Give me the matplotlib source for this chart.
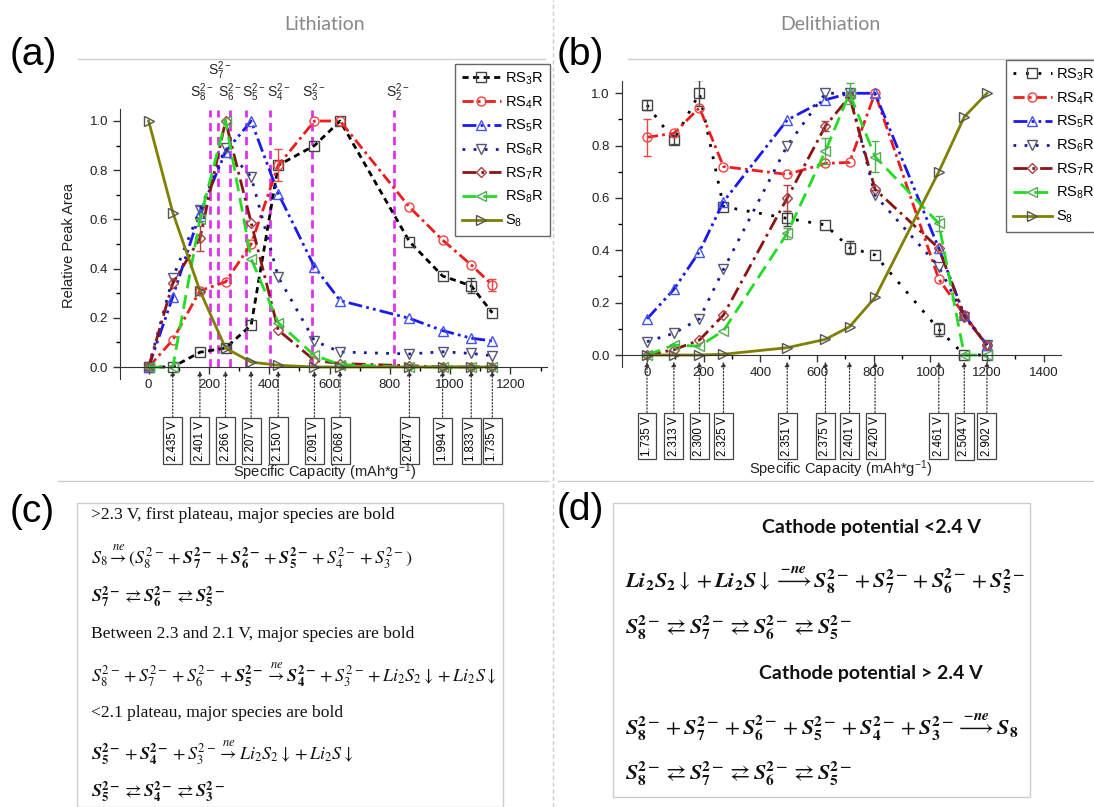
import matplotlib.pyplot as plt
from matplotlib.lines import Line2D
from matplotlib.patches import Rectangle
from matplotlib.ticker import MultipleLocator

plt.rcParams['font.family'] = 'Liberation Sans'
plt.rcParams['mathtext.fontset'] = 'stix'

W, H = 1094, 807

# lithiation (a)
cap_li = [0, 80, 170, 255, 340, 430, 550, 635, 865, 975, 1070, 1140]
volt_li = ['2.435 V', '2.401 V', '2.266 V', '2.207 V', '2.150 V', '2.091 V',
           '2.068 V', '2.047 V', '1.994 V', '1.833 V', '1.735 V']
li_rs3 = [0, 0, 0.06, 0.077, 0.17, 0.82, 0.90, 1.0, 0.51, 0.37, 0.33, 0.22]
li_rs4 = [0, 0.11, 0.31, 0.346, 0.50, 0.82, 1.0, 1.0, 0.65, 0.516, 0.415, 0.333]
li_rs5 = [0, 0.285, 0.624, 0.875, 1.0, 0.705, 0.407, 0.27, 0.198, 0.148, 0.117, 0.106]
li_rs6 = [0, 0.362, 0.637, 0.89, 0.773, 0.366, 0.106, 0.061, 0.053, 0.062, 0.055, 0.046]
li_rs7 = [0, 0.34, 0.523, 1.0, 0.587, 0.15, 0.027, 0.014, 0.005, 0, 0, 0]
li_rs8 = [0, 0, 0.60, 1.0, 0.44, 0.18, 0.047, 0.01, 0, 0, 0, 0]
li_s8 = [1.0, 0.628, 0.31, 0.077, 0.02, 0.007, 0, 0, 0, 0, 0, 0]
li_err_rs3 = [0, 0, 0, 0, 0, 0, 0, 0, 0, 0, 0.03, 0]
li_err_rs4 = [0, 0, 0, 0, 0, 0.065, 0, 0, 0, 0, 0, 0.025]
li_err_rs5 = [0, 0, 0.03, 0, 0, 0, 0, 0, 0, 0, 0, 0]
li_err_rs7 = [0, 0, 0.05, 0, 0, 0, 0, 0, 0, 0, 0, 0]

# polysulfide markers on (a)
sx_lines = [203, 230, 271, 324, 404, 542, 813]
sx_labels = [176, 236, 270, 349, 430, 546, 825]
s_names = ['8', '7', '6', '5', '4', '3', '2']

# delithiation (b)
cap_de = [0, 95, 185, 270, 495, 630, 715, 805, 1030, 1120, 1200]
volt_de = ['1.735 V', '2.313 V', '2.300 V', '2.325 V', '2.351 V', '2.375 V',
           '2.401 V', '2.420 V', '2.461 V', '2.504 V', '2.902 V']
de_rs3 = [0.955, 0.82, 1.0, 0.567, 0.522, 0.497, 0.41, 0.382, 0.098, 0.0, 0.0]
de_rs4 = [0.832, 0.847, 0.945, 0.72, 0.69, 0.732, 0.736, 1.0, 0.29, 0.153, 0.038]
de_rs5 = [0.138, 0.251, 0.395, 0.586, 0.898, 0.975, 1.0, 1.0, 0.408, 0.153, 0.038]
de_rs6 = [0.051, 0.083, 0.138, 0.327, 0.80, 1.0, 1.0, 0.61, 0.338, 0.147, 0.038]
de_rs7 = [0, 0.02, 0.057, 0.153, 0.60, 0.875, 0.987, 0.633, 0.408, 0.147, 0.038]
de_rs8 = [0, 0.038, 0.034, 0.093, 0.465, 0.78, 1.0, 0.758, 0.503, 0, 0]
de_s8 = [0, 0, 0, 0.003, 0.028, 0.06, 0.108, 0.22, 0.70, 0.91, 1.0]
de_err_rs3 = [0.02, 0.015, 0.05, 0, 0.03, 0, 0.025, 0, 0.025, 0, 0]
de_err_rs4 = [0.07, 0, 0, 0, 0, 0, 0, 0, 0, 0, 0]
de_err_rs7 = [0, 0, 0, 0, 0.05, 0.02, 0, 0, 0, 0, 0]
de_err_rs8 = [0, 0, 0, 0, 0.02, 0.05, 0.04, 0.06, 0.03, 0, 0]

names = ['RS3R', 'RS4R', 'RS5R', 'RS6R', 'RS7R', 'RS8R', 'S8']
labels = [r'$\mathregular{RS_3R}$', r'$\mathregular{RS_4R}$', r'$\mathregular{RS_5R}$',
          r'$\mathregular{RS_6R}$', r'$\mathregular{RS_7R}$', r'$\mathregular{RS_8R}$',
          r'$\mathregular{S_8}$']

styles = {
    'RS3R': dict(color='black', marker='s', mec='#444444', ls=(0, (2.2, 1.6))),
    'RS4R': dict(color='#ee1c1c', marker='o', mec='#ee4444', ls=(0, (4, 1.5, 1, 1.5))),
    'RS5R': dict(color='#1a1aee', marker='^', mec='#4455ee', ls=(0, (5, 1.5, 1, 1.5, 1, 1.5))),
    'RS6R': dict(color='#1a1a99', marker='v', mec='#555577', ls=(0, (1, 3))),
    'RS7R': dict(color='#8b1414', marker='D', mec='#aa4444', ls=(0, (5, 1.8, 1, 1.8)), ms=5.5),
    'RS8R': dict(color='#22dd22', marker='<', mec='#55aa55', ls=(0, (5, 2.5))),
    'S8': dict(color='#808000', marker='>', mec='#555555', ls='-'),
}


def fx(x):
    return x / W


def fy(y):
    return 1 - y / H


def draw_series(ax, cap, values, errors, rs3_ls=None):
    handles = []
    for name, lab in zip(names, labels):
        st = dict(styles[name])
        if name == 'RS3R' and rs3_ls is not None:
            st['ls'] = rs3_ls
        ms = st.pop('ms', 6.5)
        line, = ax.plot(cap, values[name], lw=2, mfc='none', mew=1, ms=ms,
                        label=lab, **st)
        handles.append(line)
        if name in errors:
            err = errors[name]
            xs = [c for c, e in zip(cap, err) if e > 0]
            ys = [v for v, e in zip(values[name], err) if e > 0]
            es = [e for e in err if e > 0]
            ax.errorbar(xs, ys, yerr=es, fmt='none', ecolor=st['mec'],
                        elinewidth=1, capsize=3)
    return handles


def setup_axes(ax, xlim, ylim):
    ax.set_xlim(*xlim)
    ax.set_ylim(*ylim)
    ax.spines['top'].set_visible(False)
    ax.spines['right'].set_visible(False)
    ax.spines['bottom'].set_position(('data', 0))
    ax.spines['left'].set_color('#333333')
    ax.spines['bottom'].set_color('#333333')
    ax.xaxis.set_major_locator(MultipleLocator(200))
    ax.xaxis.set_minor_locator(MultipleLocator(100))
    ax.yaxis.set_major_locator(MultipleLocator(0.2))
    ax.yaxis.set_minor_locator(MultipleLocator(0.1))
    ax.yaxis.set_major_formatter('{x:.1f}')
    ax.tick_params(direction='out', length=5, width=1, labelsize=9.5,
                   colors='#333333', labelcolor='#222222')
    ax.tick_params(which='minor', direction='out', length=3, width=1)
    ax.patch.set_alpha(0)


def voltage_boxes(ax, cap, volts, tip, centre):
    for c, v in zip(cap, volts):
        ax.annotate(v, xy=(c, tip), xytext=(c, centre), textcoords='data',
                    rotation=90, ha='center', va='center', fontsize=8.3,
                    bbox=dict(boxstyle='square,pad=0.3', fc='white', ec='#444444', lw=0.9),
                    arrowprops=dict(arrowstyle='-|>', ls=':', lw=0.9, color='#333333',
                                    mutation_scale=7, shrinkA=0, shrinkB=0),
                    annotation_clip=False)


fig = plt.figure(figsize=(W / 100, H / 100), dpi=100)

# --- (a) lithiation
ax_a = fig.add_axes([fx(120), fy(379.3), fx(426.6), 270.6 / H])
setup_axes(ax_a, (-95, 1320), (-0.05, 1.05))
ax_a.vlines(sx_lines, 0, 1.045, colors='#dd33ee', linestyles=(0, (3, 2)), lw=2, zorder=1)
for xl, n in zip(sx_labels, s_names):
    yl = 1.205 if n == '7' else 1.115
    ax_a.text(xl, yl, r'$\mathregular{S_%s^{2-}}$' % n, ha='center', va='center',
              fontsize=10, color='#222222', clip_on=False)
vals_a = dict(zip(names, [li_rs3, li_rs4, li_rs5, li_rs6, li_rs7, li_rs8, li_s8]))
errs_a = {'RS3R': li_err_rs3, 'RS4R': li_err_rs4, 'RS5R': li_err_rs5, 'RS7R': li_err_rs7}
h_a = draw_series(ax_a, cap_li, vals_a, errs_a)
voltage_boxes(ax_a, cap_li[1:], volt_li, -0.015, -0.30)
fig.legend(handles=h_a, loc='upper left', bbox_to_anchor=(fx(455), fy(64)),
           fontsize=10.5, handlelength=2.7, labelspacing=0.5, handletextpad=0.3,
           borderpad=0.45, fancybox=False, edgecolor='#666666', framealpha=1,
           borderaxespad=0)
fig.text(fx(69), fy(245), 'Relative Peak Area', rotation=90, ha='center', va='center',
         fontsize=10.5, color='#222222')
fig.text(fx(325), fy(472), r'Specific Capacity (mAh*g$^{\mathregular{-1}}$)',
         ha='center', va='center', fontsize=10.5, color='#222222')

# --- (b) delithiation
ax_b = fig.add_axes([fx(621.5), fy(366.8), fx(439.1), 285.3 / H])
setup_axes(ax_b, (-90, 1460), (-0.045, 1.045))
vals_b = dict(zip(names, [de_rs3, de_rs4, de_rs5, de_rs6, de_rs7, de_rs8, de_s8]))
errs_b = {'RS3R': de_err_rs3, 'RS4R': de_err_rs4, 'RS7R': de_err_rs7, 'RS8R': de_err_rs8}
h_b = draw_series(ax_b, cap_de, vals_b, errs_b, rs3_ls=(0, (1, 3.5)))
voltage_boxes(ax_b, cap_de, volt_de, -0.025, -0.31)
fig.legend(handles=h_b, loc='upper left', bbox_to_anchor=(fx(1006), fy(60)),
           fontsize=10.5, handlelength=2.7, labelspacing=0.5, handletextpad=0.3,
           borderpad=0.45, fancybox=False, edgecolor='#666666', framealpha=1,
           borderaxespad=0)
fig.text(fx(841), fy(469), r'Specific Capacity (mAh*g$^{\mathregular{-1}}$)',
         ha='center', va='center', fontsize=10.5, color='#222222')

# titles and panel letters
fig.text(fx(325), fy(25), 'Lithiation', ha='center', va='center', fontsize=14,
         color='#888888', family='Lato')
fig.text(fx(830), fy(25), 'Delithiation', ha='center', va='center', fontsize=14,
         color='#888888', family='Lato')
for lx, ly, s in [(10, 55, '(a)'), (557, 55, '(b)'), (10, 512, '(c)'), (557, 510, '(d)')]:
    fig.text(fx(lx), fy(ly), s, ha='left', va='center', fontsize=28, color='black')

# light frames around the panels
grey = '#cccccc'
for x0, x1, y in [(78, 545, 59), (628, 1094, 59), (58, 548, 481), (558, 1094, 481)]:
    fig.add_artist(Line2D([fx(x0), fx(x1)], [fy(y), fy(y)], color=grey, lw=1))
fig.add_artist(Line2D([fx(553), fx(553)], [0, 1], color=grey, lw=1, ls=(0, (3, 2))))
fig.add_artist(Rectangle((fx(77), 0), fx(426), fy(503), transform=fig.transFigure,
                         fill=False, ec=grey, lw=1))
fig.add_artist(Rectangle((fx(613), fy(797)), fx(417), 294 / H, transform=fig.transFigure,
                         fill=False, ec=grey, lw=1))


def sp(n, bold=False):
    if bold:
        return r'\mathbfit{S}_{\mathbf{%s}}^{\mathbf{2-}}' % n
    return r'S_{%s}^{2-}' % n


def li2(bold=False):
    if bold:
        return (r'\mathbfit{Li}_{\mathbf{2}}\mathbfit{S}_{\mathbf{2}}\downarrow+'
                r'\mathbfit{Li}_{\mathbf{2}}\mathbfit{S}\downarrow')
    return r'Li_2S_2\downarrow+Li_2S\downarrow'


eq = r'\rightleftarrows'
arr = r'\overset{ne}{\rightarrow}'

# --- (c) reaction scheme for lithiation
c_text = [
    ('>2.3 V, first plateau, major species are bold', 515),
    ('Between 2.3 and 2.1 V, major species are bold', 634),
    ('<2.1 plateau, major species are bold', 713),
]
c_math = [
    (r'$S_8' + arr + r'(' + sp(8) + '+' + sp(7, 1) + '+' + sp(6, 1) + '+' + sp(5, 1)
     + '+' + sp(4) + '+' + sp(3) + ')$', 557),
    ('$' + sp(7, 1) + eq + sp(6, 1) + eq + sp(5, 1) + '$', 597),
    ('$' + sp(8) + '+' + sp(7) + '+' + sp(6) + '+' + sp(5, 1) + arr + sp(4, 1) + '+'
     + sp(3) + '+' + li2() + '$', 675),
    ('$' + sp(5, 1) + '+' + sp(4, 1) + '+' + sp(3) + arr + li2() + '$', 753),
    ('$' + sp(5, 1) + eq + sp(4, 1) + eq + sp(3, 1) + '$', 792),
]
for s, y in c_text:
    fig.text(fx(91), fy(y), s, ha='left', va='center', fontsize=12.6,
             family='Liberation Serif', color='#111111')
for s, y in c_math:
    fig.text(fx(91), fy(y), s, ha='left', va='center', fontsize=13,
             family='Liberation Serif', color='#111111')

# --- (d) reaction scheme for delithiation
arr_d = r'\overset{\mathbfit{-ne}}{\longrightarrow}'
d_math = [
    ('$' + li2(1) + arr_d + sp(8, 1) + '+' + sp(7, 1) + '+' + sp(6, 1) + '+' + sp(5, 1) + '$', 580),
    ('$' + sp(8, 1) + eq + sp(7, 1) + eq + sp(6, 1) + eq + sp(5, 1) + '$', 627),
    ('$' + sp(8, 1) + '+' + sp(7, 1) + '+' + sp(6, 1) + '+' + sp(5, 1) + '+' + sp(4, 1)
     + '+' + sp(3, 1) + arr_d + r'\mathbfit{S}_{\mathbf{8}}$', 727),
    ('$' + sp(8, 1) + eq + sp(7, 1) + eq + sp(6, 1) + eq + sp(5, 1) + '$', 773),
]
for s, y in d_math:
    fig.text(fx(625), fy(y), s, ha='left', va='center', fontsize=15.8, color='#111111')
for s, y in [('Cathode potential <2.4 V', 527), ('Cathode potential > 2.4 V', 673)]:
    fig.text(fx(871), fy(y), s, ha='center', va='center', fontsize=14,
             family='Lato', weight='bold', color='#111111')

fig.savefig('out.png', dpi=100)
